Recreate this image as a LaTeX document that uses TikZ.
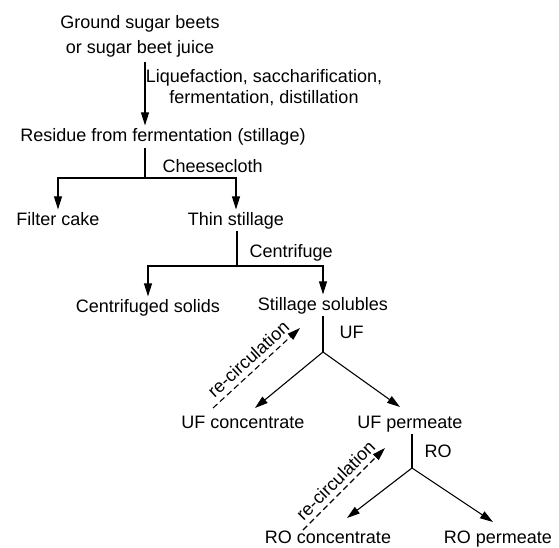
\documentclass[tikz,border=0pt]{standalone}
\usepackage{fontspec}
\setmainfont{Liberation Sans}
\usetikzlibrary{arrows.meta,calc}

\begin{document}
\begin{tikzpicture}[x=1pt,y=-1pt,line width=1.1pt,->,>={Triangle[length=13pt,width=8pt]}]
      \tikzstyle{every node}=[font=\fontsize{18}{21}\selectfont,inner sep=2pt];
      \tikzstyle{item}=[anchor=base];
      \tikzstyle{step label}=[anchor=base west];
      \tikzstyle{recirc}=[dashed,dash pattern=on 6pt off 3.5pt];
        \useasboundingbox (0,0) rectangle (559,548);

        % products
        \path (140,36)  node[align=center] (beets) {Ground sugar beets\\[4pt]or sugar beet juice};
        \path (163,142) node[item] (residue) {Residue from fermentation (stillage)};
        \path (58,225)  node[item] (filter) {Filter cake};
        \path (236,225) node[item] (thin) {Thin stillage};
        \path (148,312) node[item] (solids) {Centrifuged solids};
        \path (323,310) node[item] (solubles) {Stillage solubles};
        \path (243,428) node[item] (ufconc) {UF concentrate};
        \path (410,428) node[item] (ufperm) {UF permeate};
        \path (328,543) node[item] (roconc) {RO concentrate};
        \path (498,543) node[item] (roperm) {RO permeate};

        % process steps
        \path (264,88)  node[align=center] (liq) {Liquefaction, saccharification,\\fermentation, distillation};
        \path (160,172) node[step label] (cheese) {Cheesecloth};
        \path (247,257) node[step label] (centr) {Centrifuge};
        \path (337,338) node[step label] (uf) {UF};
        \path (422,457) node[step label] (ro) {RO};

        \coordinate (cut1) at (145,178);
        \coordinate (cut2) at (237,266);
        \coordinate (cut3) at (323,352);
        \coordinate (cut4) at (412,468);

        \path[->,draw,shorten <=3pt,shorten >=1pt] (beets.south -| cut1) -- (residue.north -| cut1);
        \path[-,draw] (residue.south -| cut1) -- (cut1);
        \path[->,draw] (cut1) -| (filter);
        \path[->,draw] (cut1) -| (thin);
        \path[-,draw] (thin.south -| cut2) -- (cut2);
        \path[->,draw] (cut2) -| (solids);
        \path[->,draw] (cut2) -| (solubles);
        \path[-,draw] (solubles.south -| cut3) -- (cut3);
        \path[->,draw] (cut3) -- ($(ufconc.base)+(12,-20)$);
        \path[->,draw] (cut3) -- ($(ufperm.base)+(-10,-21)$);
        \path[-,draw] (ufperm.south -| cut4) -- (cut4);
        \path[->,draw] (cut4) -- ($(roconc.base)+(19,-25)$);
        \path[->,draw] (cut4) -- ($(roperm.base)+(-5,-21)$);

        % re-circulation
        \path[->,draw,recirc] ($(ufconc.base)+(-30,-20)$) -- ($(solubles.base)+(-23,18)$)
            node[midway,sloped,above,inner sep=5pt] {re-circulation};
        \path[->,draw,recirc] ($(roconc.base)+(-25,-13)$) -- ($(ufperm.base)+(-25,20)$)
            node[midway,sloped,above,inner sep=5pt] {re-circulation};
    \end{tikzpicture}
\end{document}
